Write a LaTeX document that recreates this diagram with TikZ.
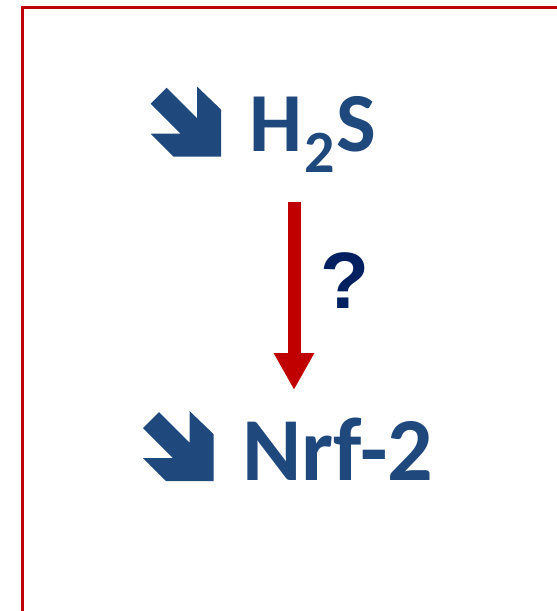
\documentclass[tikz,border=0pt]{standalone}
\usepackage{fontspec}
\setmainfont{Carlito}
\newfontfamily\qfont{Liberation Sans}
\usetikzlibrary{arrows.meta}
\definecolor{iconblue}{HTML}{1F497D}
\definecolor{qnavy}{HTML}{002060}
\definecolor{bred}{HTML}{C00000}
\tikzset{
  downicon/.pic={\fill[iconblue] (0,17)--(16,1)--(46.5,31.5)--(46.5,0)--(70.5,23)--(70.5,70)--(23,70)--(0,47)--(30,47)--cycle;},
  bigtext/.style={text=iconblue, font=\bfseries, inner sep=0pt, anchor=base west},
  redarrow/.style={bred, line width=13pt, -{Triangle[width=38pt,length=37pt]}},
}
\begin{document}
\begin{tikzpicture}[x=1pt,y=-1pt]
\useasboundingbox (0,0) rectangle (557,611);
\draw[bred, line width=3pt] (22.5,615) -- (22.5,7) -- (560,7);
\pic at (150.7,86.7) {downicon};
\pic at (143,411) {downicon};
\node[bigtext, font=\bfseries\fontsize{84}{84}\selectfont] (h2s) at (249.5,151.7) {H\kern2pt\raisebox{-21pt}{\fontsize{60}{60}\selectfont 2}\kern1pt S};
\node[bigtext, font=\bfseries\fontsize{90}{90}\selectfont] (nrf) at (242,480) {Nrf-2};
\node[text=qnavy, font=\qfont\bfseries\fontsize{80}{80}\selectfont, inner sep=0pt, anchor=base west] (q) at (320,308.3) {?};
\coordinate (atop) at (294,201.5);
\coordinate (abot) at (294,390);
\draw[redarrow] (atop) -- (abot);
\end{tikzpicture}
\end{document}
